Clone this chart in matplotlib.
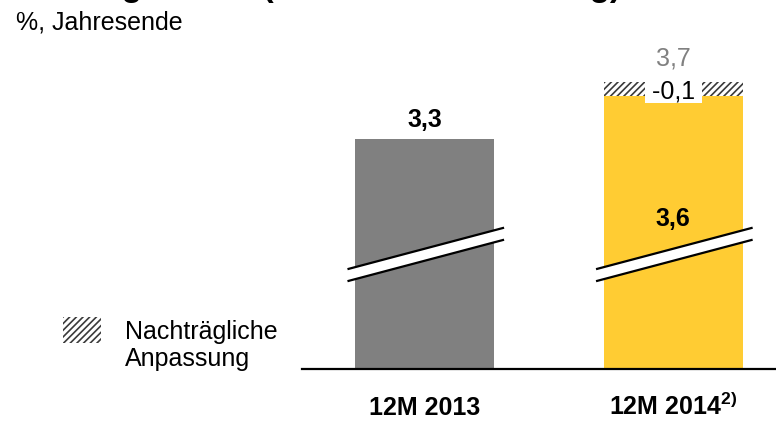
import matplotlib
matplotlib.use("Agg")
import matplotlib.pyplot as plt
from matplotlib.patches import Polygon, Rectangle

# values (percent, year end)
categories = ["12M 2013", "12M 2014$^{\\mathbf{2)}}$"]
values = [3.3, 3.6]
reported_2014 = 3.7
adjustment = -0.1
value_labels = ["3,3", "3,6"]
reported_label = "3,7"
adjustment_label = "-0,1"

title = "Leverage Ratio (bei voller Umsetzung)"
subtitle = "%, Jahresende"
legend_lines = ["Nachträgliche", "Anpassung"]

GRAY = "#808080"
YELLOW = "#FFCC33"
HATCH_COLOR = "#3a3a3a"
FS = 18

plt.rcParams["font.family"] = ["Liberation Sans", "DejaVu Sans"]
plt.rcParams["mathtext.fontset"] = "custom"
plt.rcParams["mathtext.rm"] = "Liberation Sans"
plt.rcParams["mathtext.bf"] = "Liberation Sans:bold"
plt.rcParams["hatch.linewidth"] = 1.2

W, H = 776, 422
fig = plt.figure(figsize=(W / 100, H / 100), dpi=100)

# axes spans from the baseline (px 369) to the top of the figure
ax = fig.add_axes([302 / W, (H - 369) / H, 474 / W, 369 / H])
ax.set_xlim(-0.493, 1.414)
ax.set_ylim(1.692, 4.272)

bar_w = 0.56
x = list(range(len(categories)))
ax.bar(x, values, width=bar_w, color=[GRAY, YELLOW], linewidth=0, zorder=2)

# hatched segment for the retroactive adjustment on top of 2014
ax.bar(x[1], reported_2014 - values[1], bottom=values[1], width=bar_w,
       color="white", edgecolor=HATCH_COLOR, hatch="/////", linewidth=0, zorder=2)

# axis break marks across both bars
brk_lo, brk_rise, brk_gap = 2.39, 0.29, 0.084
for xi in x:
    x0, x1 = xi - 0.31, xi + 0.32
    band = Polygon([(x0, brk_lo), (x1, brk_lo + brk_rise),
                    (x1, brk_lo + brk_rise - brk_gap), (x0, brk_lo - brk_gap)],
                   closed=True, facecolor="white", edgecolor="none",
                   zorder=3, clip_on=False)
    ax.add_patch(band)
    ax.plot([x0, x1], [brk_lo, brk_lo + brk_rise], color="black", lw=1.6,
            zorder=4, clip_on=False, solid_capstyle="butt")
    ax.plot([x0, x1], [brk_lo - brk_gap, brk_lo + brk_rise - brk_gap],
            color="black", lw=1.6, zorder=4, clip_on=False, solid_capstyle="butt")

# value labels
ax.annotate(value_labels[0], (x[0], values[0]), xytext=(0, 5),
            textcoords="offset points", ha="center", va="bottom",
            fontsize=FS, fontweight="bold")
ax.text(x[1], 2.74, value_labels[1], ha="center", va="center",
        fontsize=FS, fontweight="bold", zorder=5)
ax.annotate(reported_label, (x[1], reported_2014), xytext=(0, 8),
            textcoords="offset points", ha="center", va="bottom",
            fontsize=FS, color=GRAY)
ax.text(x[1], values[1] + (reported_2014 - values[1]) / 2 - 0.015,
        " " + adjustment_label + " ", ha="center", va="center", fontsize=FS,
        zorder=5, bbox=dict(boxstyle="square,pad=0", facecolor="white",
                            edgecolor="none"))

# axis styling
for side in ["top", "left", "right"]:
    ax.spines[side].set_visible(False)
ax.spines["bottom"].set_linewidth(1.6)
ax.set_yticks([])
ax.set_xticks(x)
ax.set_xticklabels(categories, fontsize=FS, fontweight="bold")
# put both labels on the same baseline (the superscript would push one down)
for t in ax.get_xticklabels():
    t.set_va("baseline")
ax.tick_params(axis="x", length=0, pad=33)
ax.patch.set_visible(False)

# legend built by hand: hatched swatch + two-line label
fig.patches.append(Rectangle((63 / W, (H - 343) / H), 38 / W, 26 / H,
                             transform=fig.transFigure, facecolor="white",
                             edgecolor=HATCH_COLOR, hatch="/////", linewidth=0))
fig.text(125 / W, 1 - 339 / H, legend_lines[0], ha="left", va="baseline", fontsize=FS)
fig.text(125 / W, 1 - 366 / H, legend_lines[1], ha="left", va="baseline", fontsize=FS)

# title (cut off at the top, as in the source) and subtitle
fig.text(14 / W, 1 + 4 / H, title, ha="left", va="baseline",
         fontsize=24, fontweight="bold")
fig.text(16 / W, 1 - 29.5 / H, subtitle, ha="left", va="baseline", fontsize=FS)

fig.savefig("out.png", dpi=100)
